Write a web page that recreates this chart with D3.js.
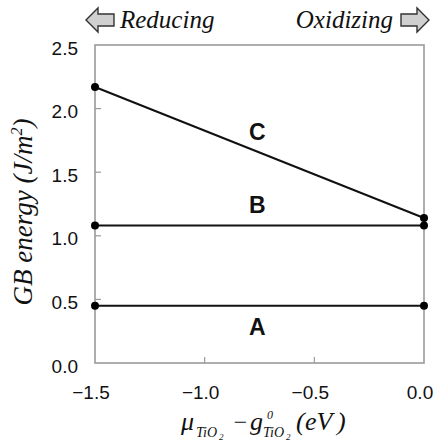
<!DOCTYPE html>
<html>
<head>
<meta charset="utf-8">
<script src="https://cdn.jsdelivr.net/npm/d3@7"></script>
<style>
  body { margin: 0; background: #fff; }
  .tick-label { font-family: "Liberation Sans", Arial, sans-serif; font-size: 19px; fill: #111; }
  .serif { font-family: "Liberation Serif", "DejaVu Serif", "Times New Roman", serif; font-style: italic; fill: #111; }
  .curve-label { font-family: "Liberation Sans", Arial, sans-serif; font-size: 23px; font-weight: bold; fill: #111; }
</style>
</head>
<body>
<div class="chart"></div>
<script>
const xTicks = [-1.5, -1.0, -0.5, 0.0];
const yTicks = [0.0, 0.5, 1.0, 1.5, 2.0, 2.5];
const seriesNames = ["A", "B", "C"];
const seriesX = [-1.5, 0.0];
const seriesA = [0.45, 0.45];
const seriesB = [1.08, 1.08];
const seriesC = [2.17, 1.14];
const labelPos = [[-0.76, 0.28], [-0.76, 1.24], [-0.76, 1.82]];

const width = 436;
const height = 441;
const plot = { left: 95, right: 424, top: 45, bottom: 363 };
const serifFont = "'Liberation Serif', 'DejaVu Serif', serif";

const x = d3.scaleLinear().domain([-1.5, 0]).range([plot.left, plot.right]);
const y = d3.scaleLinear().domain([0, 2.5]).range([plot.bottom, plot.top]);

const svg = d3
  .select(".chart")
  .append("svg")
  .attr("width", width)
  .attr("height", height);

// frame
svg
  .append("rect")
  .attr("x", plot.left)
  .attr("y", plot.top)
  .attr("width", plot.right - plot.left)
  .attr("height", plot.bottom - plot.top)
  .attr("fill", "none")
  .attr("stroke", "#9a9a9a")
  .attr("stroke-width", 1.6);

// inner ticks
svg
  .append("g")
  .selectAll("line")
  .data(yTicks.slice(1, -1))
  .join("line")
  .attr("x1", plot.left)
  .attr("x2", plot.left + 6)
  .attr("y1", (d) => y(d))
  .attr("y2", (d) => y(d))
  .attr("stroke", "#9a9a9a")
  .attr("stroke-width", 1.2);

svg
  .append("g")
  .selectAll("line")
  .data(xTicks.slice(1, -1))
  .join("line")
  .attr("x1", (d) => x(d))
  .attr("x2", (d) => x(d))
  .attr("y1", plot.bottom)
  .attr("y2", plot.bottom - 6)
  .attr("stroke", "#9a9a9a")
  .attr("stroke-width", 1.2);

// tick labels
svg
  .append("g")
  .selectAll("text")
  .data(yTicks)
  .join("text")
  .attr("class", "tick-label")
  .attr("x", 78)
  .attr("y", (d) => y(d) + 3)
  .attr("dy", "0.35em")
  .attr("text-anchor", "end")
  .text((d) => d.toFixed(1));

svg
  .append("g")
  .selectAll("text")
  .data(xTicks)
  .join("text")
  .attr("class", "tick-label")
  .attr("x", (d) => x(d) - 4)
  .attr("y", 392)
  .attr("dy", "0.35em")
  .attr("text-anchor", "middle")
  .text((d) => (d < 0 ? "\u2212" + Math.abs(d).toFixed(1) : d.toFixed(1)));

// series lines and points
const line = d3
  .line()
  .x((d) => x(d[0]))
  .y((d) => y(d[1]));

[seriesA, seriesB, seriesC].forEach((vals) => {
  const pts = seriesX.map((v, i) => [v, vals[i]]);
  svg
    .append("path")
    .attr("d", line(pts))
    .attr("fill", "none")
    .attr("stroke", "#111")
    .attr("stroke-width", 2);
  svg
    .append("g")
    .selectAll("circle")
    .data(pts)
    .join("circle")
    .attr("cx", (d) => x(d[0]))
    .attr("cy", (d) => y(d[1]))
    .attr("r", 4)
    .attr("fill", "#000");
});

svg
  .append("g")
  .selectAll("text")
  .data(seriesNames)
  .join("text")
  .attr("class", "curve-label")
  .attr("x", (d, i) => x(labelPos[i][0]))
  .attr("y", (d, i) => y(labelPos[i][1]))
  .attr("dy", "0.35em")
  .attr("text-anchor", "middle")
  .text((d) => d);

// y axis title
const yTitle = svg
  .append("text")
  .attr("class", "serif")
  .attr("font-family", serifFont)
  .attr("transform", "translate(32,212) rotate(-90)")
  .attr("text-anchor", "middle")
  .attr("font-size", 27);
yTitle.append("tspan").text("GB energy (J/m");
yTitle.append("tspan").attr("font-size", 16).attr("dy", -10).text("2");
yTitle.append("tspan").attr("dy", 10).text(")");

// x axis title, pieces placed one by one
function piece(px, py, size, txt, italic = true) {
  svg
    .append("text")
    .attr("class", "serif")
    .attr("font-family", serifFont)
    .attr("x", px)
    .attr("y", py)
    .attr("font-size", size)
    .attr("font-style", italic ? "italic" : "normal")
    .text(txt);
}
piece(181, 430, 26, "\u03bc");
piece(196, 437, 14, "TiO");
piece(219, 440, 9, "2", false);
piece(232, 430, 24, "\u2212", false);
piece(250, 430, 26, "g");
piece(267, 419, 12, "0", false);
piece(263, 437, 14, "TiO");
piece(286, 440, 9, "2", false);
piece(296, 430, 26, "(", false);
piece(305, 430, 26, "eV");
piece(337, 430, 26, ")", false);

// top annotations with block arrows
function blockArrow(tipX, cy, dir) {
  const pts = [
    [0, 0], [12, -12], [12, -6], [28, -6], [28, 6], [12, 6], [12, 12]
  ].map((p) => [tipX + dir * p[0], cy + p[1]]);
  svg
    .append("polygon")
    .attr("points", pts.map((p) => p.join(",")).join(" "))
    .attr("fill", "#d0d0d0")
    .attr("stroke", "#333")
    .attr("stroke-width", 1.4);
}
blockArrow(86, 20, 1);
blockArrow(429, 20, -1);

svg
  .append("text")
  .attr("class", "serif")
  .attr("font-family", serifFont)
  .attr("x", 120)
  .attr("y", 28)
  .attr("font-size", 25)
  .text("Reducing");

svg
  .append("text")
  .attr("class", "serif")
  .attr("font-family", serifFont)
  .attr("x", 393)
  .attr("y", 28)
  .attr("font-size", 25)
  .attr("text-anchor", "end")
  .text("Oxidizing");
</script>
</body>
</html>
